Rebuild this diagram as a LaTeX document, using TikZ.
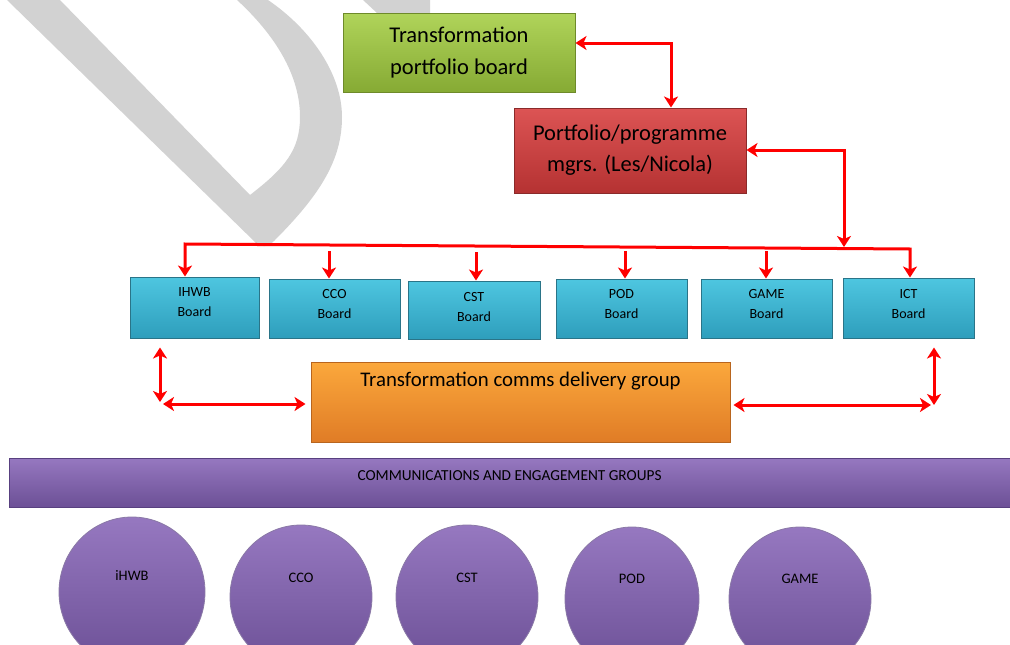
\documentclass[tikz,border=0pt]{standalone}
\usepackage{fontspec}
\setmainfont{Carlito}
\usetikzlibrary{arrows.meta,shapes.geometric,calc}
\definecolor{arrowred}{HTML}{FF0000}
\definecolor{wmgray}{HTML}{D2D2D2}
\definecolor{gtop}{HTML}{B0D45A}\definecolor{gbot}{HTML}{86AA34}\definecolor{gdr}{HTML}{6E8A2A}
\definecolor{rtop}{HTML}{DC5454}\definecolor{rbot}{HTML}{B53232}\definecolor{rdr}{HTML}{8A2A2A}
\definecolor{ttop}{HTML}{4EC6E0}\definecolor{tbot}{HTML}{2E9EBC}\definecolor{tdr}{HTML}{2A7488}
\definecolor{otop}{HTML}{FBA83C}\definecolor{obot}{HTML}{E07C26}\definecolor{odr}{HTML}{B8651E}
\definecolor{ptop}{HTML}{9678C0}\definecolor{pbot}{HTML}{6C5096}\definecolor{pdr}{HTML}{584080}
\tikzset{
  box/.style={rectangle, inner sep=0pt, line width=1pt, align=center},
  greenbox/.style={box, top color=gtop, bottom color=gbot, draw=gdr, minimum width=232pt, minimum height=79pt, font=\fontsize{22.5}{32}\selectfont},
  redbox/.style={box, top color=rtop, bottom color=rbot, draw=rdr, minimum width=232pt, minimum height=85pt, font=\fontsize{22.5}{31}\selectfont},
  board/.style={box, top color=ttop, bottom color=tbot, draw=tdr, minimum width=131pt, minimum height=60pt},
  boardtxt/.style={font=\fontsize{14}{20}\selectfont, align=center},
  orangebox/.style={box, top color=otop, bottom color=obot, draw=odr, minimum width=419pt, minimum height=80pt},
  purplebar/.style={box, top color=ptop, bottom color=pbot, draw=pdr, minimum width=1001pt, minimum height=49pt},
  oval/.style={ellipse, inner sep=0pt, top color=ptop, bottom color=pbot, draw=pdr!70, line width=0.8pt, minimum width=142pt, minimum height=144pt},
  ovaltxt/.style={font=\fontsize{14.5}{16}\selectfont},
  redline/.style={draw=arrowred, line width=3pt},
  head/.tip={Stealth[length=11pt,width=14pt,inset=3pt]},
}
\begin{document}
\begin{tikzpicture}[x=1pt,y=-1pt]
\useasboundingbox (0,0) rectangle (1010,645);
% watermark
\fill[wmgray] (7,0) -- (256,243) .. controls (261,248) and (268,247) .. (274,241)
  .. controls (320,195) and (342,160) .. (342,117) .. controls (342,75) and (312,30) .. (268,0)
  -- (237,0) .. controls (275,35) and (300,75) .. (300,117) .. controls (300,150) and (285,168) .. (250,195)
  -- (60,0) -- cycle;
\fill[wmgray] (363,0) -- (430,0) -- (430,13) -- (377,13) -- cycle;
% main boxes
\node[greenbox] (green) at (459,52.5) {Transformation\\portfolio board};
\node[redbox] (red) at (630,150.5) {Portfolio/programme\\mgrs. (Les/Nicola)};
% boards
\node[board, minimum width=129pt, minimum height=61pt, label={[boardtxt, yshift=5pt]center:{IHWB\\Board}}] (ihwb) at (194.5,307.5) {};
\node[board, minimum height=59pt, label={[boardtxt, yshift=4pt]center:{CCO\\Board}}] (cco) at (334.5,308.5) {};
\node[board, minimum width=132pt, minimum height=58pt, label={[boardtxt, yshift=3pt]center:{CST\\Board}}] (cst) at (474,310) {};
\node[board, minimum height=59pt, label={[boardtxt, yshift=4pt]center:{POD\\Board}}] (pod) at (621.5,308.5) {};
\node[board, minimum height=59pt, label={[boardtxt, yshift=4pt]center:{GAME\\Board}}] (game) at (766.5,308.5) {};
\node[board, label={[boardtxt, yshift=4pt]center:{ICT\\Board}}] (ict) at (908.5,308) {};
% orange
\node[orangebox, label={[anchor=center, yshift=-20pt, font=\fontsize{20.8}{24}\selectfont]north:{Transformation comms delivery group}}] (orange) at (520.5,402) {};
% purple bar
\node[purplebar, label={[yshift=7pt, font=\fontsize{15.3}{17}\selectfont]center:{COMMUNICATIONS AND ENGAGEMENT GROUPS}}] (bar) at (509.5,482.5) {};
% ovals
\begin{scope}
\clip (0,0) rectangle (1010,645);
\node[oval, minimum width=146pt, minimum height=150pt, label={[ovaltxt, yshift=16pt]center:iHWB}] (o1) at (132,592) {};
\node[oval, label={[ovaltxt, yshift=19pt]center:CCO}] (o2) at (301,597) {};
\node[oval, label={[ovaltxt, yshift=19pt]center:CST}] (o3) at (467,597) {};
\node[oval, minimum width=134pt, label={[ovaltxt, yshift=20pt]center:POD}] (o4) at (632,599) {};
\node[oval, label={[ovaltxt, yshift=20pt]center:GAME}] (o5) at (800,599) {};
\end{scope}
% connectors
\coordinate (gr) at (671,43);
\draw[redline, {head}-{head}] (gr -| green.east) -- (gr) -- (gr |- red.north);
\coordinate (rb) at (844,150);
\coordinate (bt) at (844,247);
\draw[redline, {head}-{head}] (rb -| red.east) -- (rb) -- (bt);
\coordinate (busL) at (185,244);
\coordinate (busR) at (910,249);
\draw[redline, {head}-{head}, line join=miter] (busL |- ihwb.north) -- (busL) -- (busR) -- (busR |- ict.north);
\coordinate (c2) at (329,251);
\coordinate (c3) at (476,252);
\coordinate (c4) at (625,251);
\coordinate (c5) at (766,251);
\draw[redline, -{head}] (c2) -- (c2 |- cco.north);
\draw[redline, -{head}] (c3) -- (c3 |- cst.north);
\draw[redline, -{head}] (c4) -- (c4 |- pod.north);
\draw[redline, -{head}] (c5) -- (c5 |- game.north);
\coordinate (L) at (160,404);
\draw[redline, {head}-{head}, shorten <=9pt, shorten >=2pt] (L |- ihwb.south) -- (L);
\draw[redline, {head}-{head}, shorten <=3pt, shorten >=5pt] (L) -- (L -| orange.west);
\coordinate (R) at (934,405);
\draw[redline, {head}-{head}, shorten <=9pt, shorten >=0pt] (R |- ict.south) -- (R);
\draw[redline, {head}-{head}, shorten <=3pt, shorten >=3pt] (orange.east |- R) -- (R);
\end{tikzpicture}
\end{document}
